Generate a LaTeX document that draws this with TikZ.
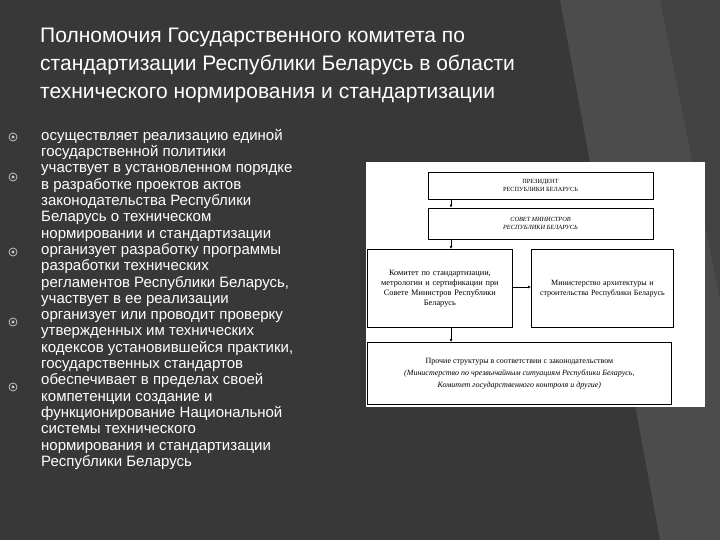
\documentclass[tikz,border=0pt]{standalone}
\usepackage{fontspec}
\usetikzlibrary{arrows.meta}
\setmainfont{Liberation Sans}
\newfontfamily\dserif{Liberation Serif}
\begin{document}
\begin{tikzpicture}[x=1pt,y=-1pt,
  bul/.style={draw=white!80!black,line width=0.7pt,circle,minimum size=8pt,inner sep=0pt},
  btxt/.style={anchor=north west,align=left,text=white,font=\fontsize{15}{16.3}\selectfont,inner sep=0pt},
  dbox/.style={draw=black,line width=0.8pt,fill=white,font=\dserif\fontsize{6.3}{8}\selectfont,align=center,inner sep=1pt},
  arr/.style={-{Latex[length=3pt,width=3pt]},line width=0.6pt}]
\fill[black!78] (0,0) rectangle (720,540);
\fill[black!70] (560,0) -- (720,0) -- (720,540) -- (660,540) -- cycle;
\fill[black!74] (660,0) -- (720,0) -- (720,300) -- cycle;
\node[anchor=north west,text=white,align=left,font=\fontsize{21}{28}\selectfont,inner sep=0pt] (title) at (40,28)
{Полномочия Государственного комитета по\\стандартизации Республики Беларусь в области\\технического нормирования и стандартизации};
\foreach \yy/\n in {137/b1,177/b2,252/b3,322/b4,387/b5}{
  \node[bul] (\n) at (13,\yy) {};
  \fill[white!80!black] (\n) circle (1.6pt);}
\node[btxt] (t) at (41,129) { осуществляет реализацию единой\\государственной политики\\участвует в установленном порядке\\в разработке проектов актов\\законодательства Республики\\Беларусь о техническом\\нормировании и стандартизации\\организует разработку программы\\разработки технических\\регламентов Республики Беларусь,\\участвует в ее реализации\\ организует или проводит проверку\\утвержденных им технических\\кодексов установившейся практики,\\государственных стандартов\\обеспечивает в пределах своей\\компетенции создание и\\функционирование Национальной\\системы технического\\нормирования и стандартизации\\Республики Беларусь};
\fill[white] (366,162) rectangle (705,407);
\node[dbox,minimum width=225pt,minimum height=27pt] (pres) at (540.5,185.5) {ПРЕЗИДЕНТ\\РЕСПУБЛИКИ БЕЛАРУСЬ};
\node[dbox,minimum width=225pt,minimum height=31pt,font=\dserif\itshape\fontsize{6.3}{8}\selectfont] (sov) at (540.5,223.5) {СОВЕТ МИНИСТРОВ\\РЕСПУБЛИКИ БЕЛАРУСЬ};
\node[dbox,minimum width=145pt,minimum height=78pt,text width=142pt,anchor=north west,font=\dserif\fontsize{8.3}{10}\selectfont] (kom) at (367,249) {Комитет по стандартизации,\\метрологии и сертификации при\\Совете Министров Республики\\Беларусь\\[2.2em]};
\node[dbox,minimum width=142pt,minimum height=78pt,text width=140pt,anchor=north west,font=\dserif\fontsize{8}{10}\selectfont] (min) at (531,249) {Министерство архитектуры и\\строительства Республики Беларусь\\[4em]};
\node[dbox,minimum width=304pt,minimum height=62pt,anchor=north west,font=\dserif\fontsize{8}{12}\selectfont] (pro) at (367,342) {Прочие структуры в соответствии с законодательством\\\itshape(Министерство по чрезвычайным ситуациям Республики Беларусь,\\\itshape Комитет государственного контроля и другие)};
\draw[arr] (pres.south -| 451,0) -- (sov.north -| 451,0);
\draw[arr] (sov.south -| 451,0) -- (kom.north -| 451,0);
\draw[arr] (kom.south -| 451,0) -- (pro.north -| 451,0);
\draw[arr] (kom.east |- 0,287) -- (min.west |- 0,287);
\end{tikzpicture}
\end{document}
